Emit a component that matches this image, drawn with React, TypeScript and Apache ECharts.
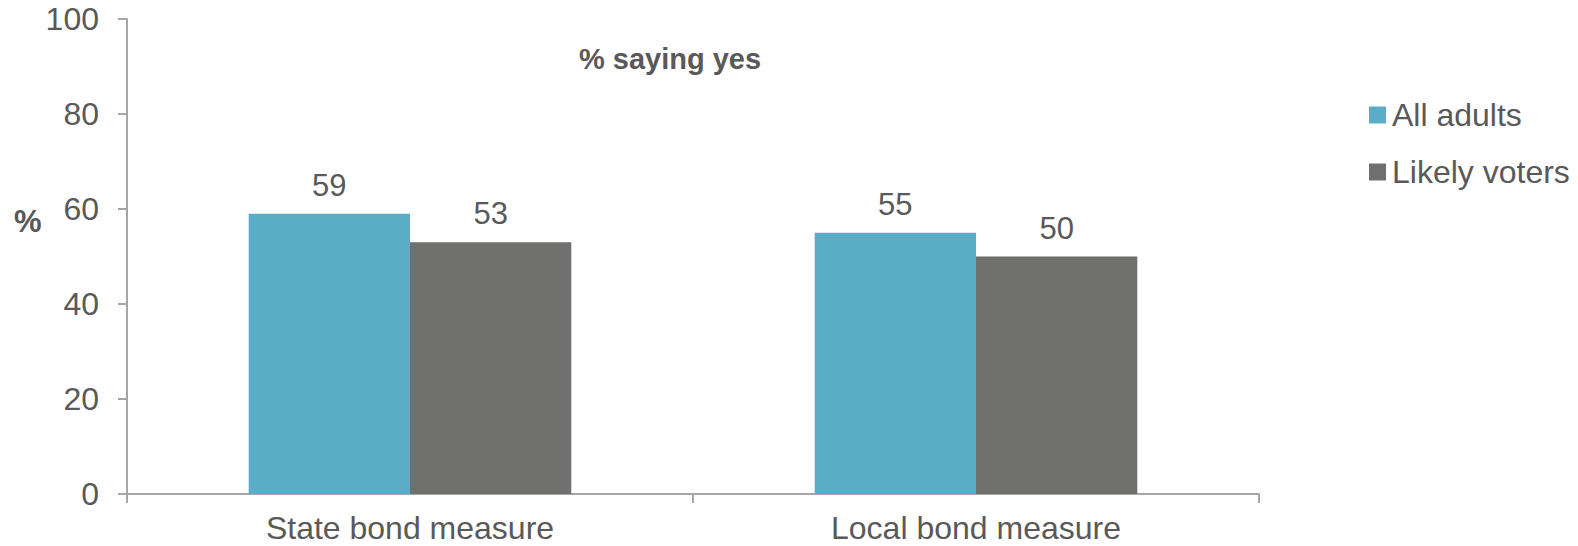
import React, { useEffect, useRef } from "react";
import * as echarts from "echarts";

const categories = ["State bond measure", "Local bond measure"];
const allAdults = [59, 55];
const likelyVoters = [53, 50];
const seriesNames = ["All adults", "Likely voters"];
const yTicks = [0, 20, 40, 60, 80, 100];

const TEXT = "#595959";
const AXIS = "#A6A6A6";
const FONT = "'Liberation Sans', Arial, sans-serif";

export default function App() {
  const ref = useRef<HTMLDivElement>(null);
  useEffect(() => {
    if (!ref.current) return;
    const chart = echarts.init(ref.current, null, { renderer: "svg" });
    chart.setOption({
      animation: false,
      textStyle: { fontFamily: FONT },
      title: {
        text: "% saying yes",
        left: 665,
        top: 39,
        textAlign: "center",
        textStyle: { fontSize: 29, fontWeight: "bold", color: TEXT, fontFamily: FONT },
      },
      legend: {
        orient: "vertical",
        left: 1364,
        top: 94,
        itemWidth: 17,
        itemHeight: 17,
        itemGap: 25,
        icon: "rect",
        data: seriesNames,
        textStyle: { fontSize: 32, color: TEXT, fontFamily: FONT, padding: [0, 0, 0, 1] },
      },
      graphic: [
        {
          type: "text",
          left: 14,
          top: 206,
          style: { text: "%", fontSize: 31, fontWeight: "bold", fill: TEXT, fontFamily: FONT },
        },
      ],
      grid: { left: 127, right: 319, top: 19, bottom: 52, containLabel: false },
      xAxis: {
        type: "category",
        data: categories,
        axisLine: { lineStyle: { color: AXIS, width: 2 } },
        axisTick: { show: true, length: 9, lineStyle: { color: AXIS, width: 2 } },
        axisLabel: { fontSize: 32, lineHeight: 30, color: TEXT, margin: 19, fontFamily: FONT },
      },
      yAxis: {
        type: "value",
        min: yTicks[0],
        max: yTicks[yTicks.length - 1],
        interval: 20,
        axisLine: { show: true, lineStyle: { color: AXIS, width: 2 } },
        axisTick: { show: true, length: 9, lineStyle: { color: AXIS, width: 2 } },
        splitLine: { show: false },
        axisLabel: { fontSize: 32, color: TEXT, margin: 28, fontFamily: FONT },
      },
      series: [
        {
          name: seriesNames[0],
          type: "bar",
          data: allAdults,
          barGap: "0%",
          barCategoryGap: "43%",
          itemStyle: { color: "#5BACC6" },
          label: { show: true, position: "top", distance: 13, fontSize: 31, color: TEXT, fontFamily: FONT },
        },
        {
          name: seriesNames[1],
          type: "bar",
          data: likelyVoters,
          barGap: "0%",
          barCategoryGap: "43%",
          itemStyle: { color: "#6F706D" },
          label: { show: true, position: "top", distance: 13, fontSize: 31, color: TEXT, fontFamily: FONT },
        },
      ],
    });
    return () => chart.dispose();
  }, []);
  return (
    <div
      ref={ref}
      style={{ position: "fixed", left: 0, top: 0, width: 1578, height: 546, background: "#fff" }}
    />
  );
}
